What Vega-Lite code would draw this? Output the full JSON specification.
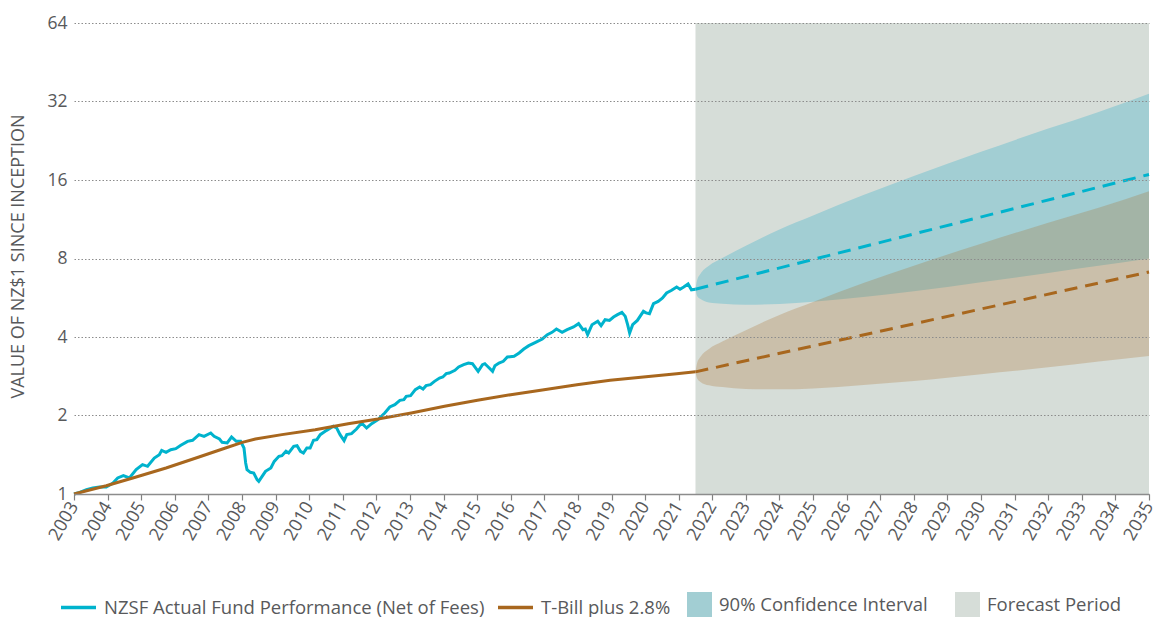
{
  "$schema": "https://vega.github.io/schema/vega-lite/v6.json",
  "width": 1075,
  "height": 471,
  "autosize": "none",
  "padding": {"left": 74, "top": 23, "right": 8, "bottom": 123},
  "background": "white",
  "config": {
    "view": {"stroke": null},
    "font": "Open Sans",
    "axisX": {"labelOverlap": false, "labelFlush": false, "labelBound": false, "ticks": true, "tickSize": 6, "tickColor": "#808080", "tickWidth": 1.2, "domainColor": "#8C8C8C", "domainWidth": 1.5, "grid": false},
    "axisY": {"labelOverlap": false, "grid": true, "gridDash": [1.5, 2], "gridColor": "#8C8C8C", "gridWidth": 1, "domain": false, "ticks": false}
  },
  "datasets": {
    "forecastPeriod": [{"year": 2021.5, "end": 2035, "bottom": 1, "top": 64, "label": "Forecast Period"}],
    "fundBand": [
      {"year": 2021.5, "lo": 6.1, "hi": 6.1, "label": "90% Confidence Interval"},
      {"year": 2021.55, "lo": 5.75, "hi": 6.61, "label": "90% Confidence Interval"},
      {"year": 2021.65, "lo": 5.6, "hi": 6.99, "label": "90% Confidence Interval"},
      {"year": 2021.9, "lo": 5.43, "hi": 7.5, "label": "90% Confidence Interval"},
      {"year": 2022.3, "lo": 5.37, "hi": 8.03, "label": "90% Confidence Interval"},
      {"year": 2023.0, "lo": 5.32, "hi": 8.95, "label": "90% Confidence Interval"},
      {"year": 2024.0, "lo": 5.35, "hi": 10.34, "label": "90% Confidence Interval"},
      {"year": 2025.0, "lo": 5.46, "hi": 11.7, "label": "90% Confidence Interval"},
      {"year": 2026.5, "lo": 5.7, "hi": 14.02, "label": "90% Confidence Interval"},
      {"year": 2028.0, "lo": 5.99, "hi": 16.59, "label": "90% Confidence Interval"},
      {"year": 2030.0, "lo": 6.49, "hi": 20.52, "label": "90% Confidence Interval"},
      {"year": 2032.0, "lo": 7.04, "hi": 25.19, "label": "90% Confidence Interval"},
      {"year": 2033.5, "lo": 7.5, "hi": 29.18, "label": "90% Confidence Interval"},
      {"year": 2035.0, "lo": 8.0, "hi": 34.3, "label": "90% Confidence Interval"}
    ],
    "tbillBand": [
      {"year": 2021.5, "lo": 2.94, "hi": 2.94},
      {"year": 2021.55, "lo": 2.77, "hi": 3.18},
      {"year": 2021.65, "lo": 2.69, "hi": 3.36},
      {"year": 2021.9, "lo": 2.61, "hi": 3.6},
      {"year": 2022.3, "lo": 2.57, "hi": 3.84},
      {"year": 2023.0, "lo": 2.53, "hi": 4.25},
      {"year": 2024.0, "lo": 2.52, "hi": 4.86},
      {"year": 2025.0, "lo": 2.54, "hi": 5.45},
      {"year": 2026.5, "lo": 2.62, "hi": 6.44},
      {"year": 2028.0, "lo": 2.71, "hi": 7.51},
      {"year": 2030.0, "lo": 2.88, "hi": 9.11},
      {"year": 2032.0, "lo": 3.06, "hi": 10.97},
      {"year": 2033.5, "lo": 3.22, "hi": 12.52},
      {"year": 2035.0, "lo": 3.38, "hi": 14.5}
    ],
    "forecast": [
      {"year": 2021.5, "value": 6.1, "series": "fund"},
      {"year": 2035, "value": 16.8, "series": "fund"},
      {"year": 2021.5, "value": 2.94, "series": "tbill"},
      {"year": 2035, "value": 7.1, "series": "tbill"}
    ],
    "actual": [
      {"year": 2003.0, "value": 1.0, "series": "fund"},
      {"year": 2003.17, "value": 1.015, "series": "fund"},
      {"year": 2003.37, "value": 1.039, "series": "fund"},
      {"year": 2003.56, "value": 1.054, "series": "fund"},
      {"year": 2003.76, "value": 1.064, "series": "fund"},
      {"year": 2003.96, "value": 1.064, "series": "fund"},
      {"year": 2004.16, "value": 1.102, "series": "fund"},
      {"year": 2004.3, "value": 1.152, "series": "fund"},
      {"year": 2004.47, "value": 1.176, "series": "fund"},
      {"year": 2004.65, "value": 1.152, "series": "fund"},
      {"year": 2004.85, "value": 1.24, "series": "fund"},
      {"year": 2005.04, "value": 1.296, "series": "fund"},
      {"year": 2005.19, "value": 1.277, "series": "fund"},
      {"year": 2005.39, "value": 1.374, "series": "fund"},
      {"year": 2005.54, "value": 1.415, "series": "fund"},
      {"year": 2005.61, "value": 1.47, "series": "fund"},
      {"year": 2005.74, "value": 1.445, "series": "fund"},
      {"year": 2005.88, "value": 1.479, "series": "fund"},
      {"year": 2006.03, "value": 1.492, "series": "fund"},
      {"year": 2006.18, "value": 1.537, "series": "fund"},
      {"year": 2006.38, "value": 1.592, "series": "fund"},
      {"year": 2006.53, "value": 1.607, "series": "fund"},
      {"year": 2006.72, "value": 1.689, "series": "fund"},
      {"year": 2006.87, "value": 1.664, "series": "fund"},
      {"year": 2007.07, "value": 1.714, "series": "fund"},
      {"year": 2007.17, "value": 1.664, "series": "fund"},
      {"year": 2007.33, "value": 1.625, "series": "fund"},
      {"year": 2007.41, "value": 1.578, "series": "fund"},
      {"year": 2007.56, "value": 1.569, "series": "fund"},
      {"year": 2007.69, "value": 1.654, "series": "fund"},
      {"year": 2007.83, "value": 1.592, "series": "fund"},
      {"year": 2007.96, "value": 1.592, "series": "fund"},
      {"year": 2008.06, "value": 1.501, "series": "fund"},
      {"year": 2008.11, "value": 1.315, "series": "fund"},
      {"year": 2008.15, "value": 1.24, "series": "fund"},
      {"year": 2008.25, "value": 1.211, "series": "fund"},
      {"year": 2008.35, "value": 1.204, "series": "fund"},
      {"year": 2008.45, "value": 1.135, "series": "fund"},
      {"year": 2008.5, "value": 1.118, "series": "fund"},
      {"year": 2008.6, "value": 1.169, "series": "fund"},
      {"year": 2008.7, "value": 1.222, "series": "fund"},
      {"year": 2008.86, "value": 1.258, "series": "fund"},
      {"year": 2008.96, "value": 1.334, "series": "fund"},
      {"year": 2009.1, "value": 1.395, "series": "fund"},
      {"year": 2009.19, "value": 1.403, "series": "fund"},
      {"year": 2009.31, "value": 1.458, "series": "fund"},
      {"year": 2009.39, "value": 1.436, "series": "fund"},
      {"year": 2009.54, "value": 1.523, "series": "fund"},
      {"year": 2009.64, "value": 1.532, "series": "fund"},
      {"year": 2009.74, "value": 1.458, "series": "fund"},
      {"year": 2009.83, "value": 1.436, "series": "fund"},
      {"year": 2009.93, "value": 1.501, "series": "fund"},
      {"year": 2010.03, "value": 1.501, "series": "fund"},
      {"year": 2010.13, "value": 1.607, "series": "fund"},
      {"year": 2010.23, "value": 1.616, "series": "fund"},
      {"year": 2010.33, "value": 1.689, "series": "fund"},
      {"year": 2010.52, "value": 1.754, "series": "fund"},
      {"year": 2010.72, "value": 1.818, "series": "fund"},
      {"year": 2010.82, "value": 1.791, "series": "fund"},
      {"year": 2010.92, "value": 1.689, "series": "fund"},
      {"year": 2011.04, "value": 1.601, "series": "fund"},
      {"year": 2011.12, "value": 1.689, "series": "fund"},
      {"year": 2011.26, "value": 1.704, "series": "fund"},
      {"year": 2011.41, "value": 1.775, "series": "fund"},
      {"year": 2011.56, "value": 1.872, "series": "fund"},
      {"year": 2011.71, "value": 1.791, "series": "fund"},
      {"year": 2011.86, "value": 1.861, "series": "fund"},
      {"year": 2012.05, "value": 1.928, "series": "fund"},
      {"year": 2012.25, "value": 2.045, "series": "fund"},
      {"year": 2012.4, "value": 2.156, "series": "fund"},
      {"year": 2012.55, "value": 2.201, "series": "fund"},
      {"year": 2012.7, "value": 2.287, "series": "fund"},
      {"year": 2012.82, "value": 2.3, "series": "fund"},
      {"year": 2012.89, "value": 2.369, "series": "fund"},
      {"year": 2013.02, "value": 2.383, "series": "fund"},
      {"year": 2013.16, "value": 2.512, "series": "fund"},
      {"year": 2013.29, "value": 2.572, "series": "fund"},
      {"year": 2013.39, "value": 2.527, "series": "fund"},
      {"year": 2013.48, "value": 2.603, "series": "fund"},
      {"year": 2013.61, "value": 2.626, "series": "fund"},
      {"year": 2013.73, "value": 2.704, "series": "fund"},
      {"year": 2013.88, "value": 2.785, "series": "fund"},
      {"year": 2013.98, "value": 2.81, "series": "fund"},
      {"year": 2014.08, "value": 2.894, "series": "fund"},
      {"year": 2014.17, "value": 2.911, "series": "fund"},
      {"year": 2014.34, "value": 2.98, "series": "fund"},
      {"year": 2014.45, "value": 3.069, "series": "fund"},
      {"year": 2014.6, "value": 3.133, "series": "fund"},
      {"year": 2014.74, "value": 3.18, "series": "fund"},
      {"year": 2014.86, "value": 3.161, "series": "fund"},
      {"year": 2015.03, "value": 2.954, "series": "fund"},
      {"year": 2015.16, "value": 3.133, "series": "fund"},
      {"year": 2015.23, "value": 3.161, "series": "fund"},
      {"year": 2015.33, "value": 3.069, "series": "fund"},
      {"year": 2015.46, "value": 2.954, "series": "fund"},
      {"year": 2015.53, "value": 3.105, "series": "fund"},
      {"year": 2015.65, "value": 3.18, "series": "fund"},
      {"year": 2015.78, "value": 3.227, "series": "fund"},
      {"year": 2015.9, "value": 3.353, "series": "fund"},
      {"year": 2016.1, "value": 3.373, "series": "fund"},
      {"year": 2016.25, "value": 3.473, "series": "fund"},
      {"year": 2016.39, "value": 3.598, "series": "fund"},
      {"year": 2016.54, "value": 3.705, "series": "fund"},
      {"year": 2016.74, "value": 3.816, "series": "fund"},
      {"year": 2016.94, "value": 3.93, "series": "fund"},
      {"year": 2017.09, "value": 4.083, "series": "fund"},
      {"year": 2017.23, "value": 4.168, "series": "fund"},
      {"year": 2017.36, "value": 4.293, "series": "fund"},
      {"year": 2017.53, "value": 4.168, "series": "fund"},
      {"year": 2017.68, "value": 4.267, "series": "fund"},
      {"year": 2017.87, "value": 4.37, "series": "fund"},
      {"year": 2018.02, "value": 4.5, "series": "fund"},
      {"year": 2018.15, "value": 4.267, "series": "fund"},
      {"year": 2018.22, "value": 4.293, "series": "fund"},
      {"year": 2018.29, "value": 4.083, "series": "fund"},
      {"year": 2018.42, "value": 4.46, "series": "fund"},
      {"year": 2018.59, "value": 4.594, "series": "fund"},
      {"year": 2018.69, "value": 4.42, "series": "fund"},
      {"year": 2018.81, "value": 4.66, "series": "fund"},
      {"year": 2018.94, "value": 4.63, "series": "fund"},
      {"year": 2019.06, "value": 4.77, "series": "fund"},
      {"year": 2019.18, "value": 4.872, "series": "fund"},
      {"year": 2019.31, "value": 4.973, "series": "fund"},
      {"year": 2019.41, "value": 4.8, "series": "fund"},
      {"year": 2019.48, "value": 4.46, "series": "fund"},
      {"year": 2019.54, "value": 4.14, "series": "fund"},
      {"year": 2019.63, "value": 4.46, "series": "fund"},
      {"year": 2019.77, "value": 4.63, "series": "fund"},
      {"year": 2019.95, "value": 5.017, "series": "fund"},
      {"year": 2020.03, "value": 4.95, "series": "fund"},
      {"year": 2020.13, "value": 4.915, "series": "fund"},
      {"year": 2020.25, "value": 5.37, "series": "fund"},
      {"year": 2020.39, "value": 5.48, "series": "fund"},
      {"year": 2020.52, "value": 5.645, "series": "fund"},
      {"year": 2020.64, "value": 5.9, "series": "fund"},
      {"year": 2020.79, "value": 6.04, "series": "fund"},
      {"year": 2020.94, "value": 6.22, "series": "fund"},
      {"year": 2021.04, "value": 6.1, "series": "fund"},
      {"year": 2021.15, "value": 6.22, "series": "fund"},
      {"year": 2021.28, "value": 6.39, "series": "fund"},
      {"year": 2021.38, "value": 6.07, "series": "fund"},
      {"year": 2021.5, "value": 6.1, "series": "fund"},
      {"year": 2003.0, "value": 1.0, "series": "tbill"},
      {"year": 2003.96, "value": 1.076, "series": "tbill"},
      {"year": 2004.75, "value": 1.152, "series": "tbill"},
      {"year": 2005.74, "value": 1.258, "series": "tbill"},
      {"year": 2006.72, "value": 1.386, "series": "tbill"},
      {"year": 2007.51, "value": 1.501, "series": "tbill"},
      {"year": 2008.01, "value": 1.578, "series": "tbill"},
      {"year": 2008.4, "value": 1.625, "series": "tbill"},
      {"year": 2009.19, "value": 1.689, "series": "tbill"},
      {"year": 2010.18, "value": 1.765, "series": "tbill"},
      {"year": 2011.16, "value": 1.861, "series": "tbill"},
      {"year": 2012.05, "value": 1.939, "series": "tbill"},
      {"year": 2013.04, "value": 2.045, "series": "tbill"},
      {"year": 2014.03, "value": 2.169, "series": "tbill"},
      {"year": 2015.01, "value": 2.287, "series": "tbill"},
      {"year": 2016.0, "value": 2.404, "series": "tbill"},
      {"year": 2016.99, "value": 2.512, "series": "tbill"},
      {"year": 2017.97, "value": 2.626, "series": "tbill"},
      {"year": 2018.96, "value": 2.728, "series": "tbill"},
      {"year": 2019.95, "value": 2.81, "series": "tbill"},
      {"year": 2020.94, "value": 2.894, "series": "tbill"},
      {"year": 2021.5, "value": 2.94, "series": "tbill"}
    ]
  },
  "encoding": {
    "x": {
      "field": "year", "type": "quantitative", "title": null,
      "scale": {"domain": [2003, 2035], "nice": false, "zero": false},
      "axis": {
        "values": [2003, 2003.5, 2004, 2004.5, 2005, 2005.5, 2006, 2006.5, 2007, 2007.5, 2008, 2008.5, 2009, 2009.5, 2010, 2010.5, 2011, 2011.5, 2012, 2012.5, 2013, 2013.5, 2014, 2014.5, 2015, 2015.5, 2016, 2016.5, 2017, 2017.5, 2018, 2018.5, 2019, 2019.5, 2020, 2020.5, 2021, 2021.5, 2022, 2022.5, 2023, 2023.5, 2024, 2024.5, 2025, 2025.5, 2026, 2026.5, 2027, 2027.5, 2028, 2028.5, 2029, 2029.5, 2030, 2030.5, 2031, 2031.5, 2032, 2032.5, 2033, 2033.5, 2034, 2034.5, 2035],
        "format": "d",
        "labelExpr": "datum.value % 1 === 0 ? datum.label : ''",
        "labelAngle": -60,
        "labelFontSize": 18,
        "labelColor": "#58595B",
        "labelFont": "Open Sans",
        "labelPadding": 3,
        "labelOverlap": false,
        "labelFlush": false,
        "labelBound": false,
        "ticks": true,
        "tickSize": 6,
        "tickColor": "#808080",
        "tickWidth": 1.2,
        "domainColor": "#8C8C8C",
        "domainWidth": 1.5,
        "grid": false,
        "zindex": 1
      }
    }
  },
  "layer": [
    {
      "data": {"name": "forecastPeriod"},
      "mark": {"type": "rect"},
      "encoding": {
        "x2": {"field": "end"},
        "y": {
          "field": "bottom", "type": "quantitative", "title": "VALUE OF NZ$1 SINCE INCEPTION",
          "scale": {"type": "log", "base": 2, "domain": [1, 64], "nice": false},
          "axis": {
            "values": [1, 2, 4, 8, 16, 32, 64],
            "format": "d",
            "grid": true,
            "gridDash": [1.5, 2],
            "gridColor": "#8C8C8C",
            "gridWidth": 1,
            "domain": false,
            "ticks": false,
            "labelFontSize": 17.5,
            "labelColor": "#58595B",
            "labelFont": "Open Sans",
            "labelPadding": 7,
            "titleFont": "Open Sans",
            "titleFontSize": 18,
            "titleFontWeight": "normal",
            "titleColor": "#58595B",
            "titleX": -56,
            "titleY": 233,
            "titleAngle": -90,
            "titleAlign": "center",
            "titleBaseline": "middle",
            "zindex": 1
          }
        },
        "y2": {"field": "top"},
        "fill": {
          "field": "label", "type": "nominal",
          "scale": {"domain": ["90% Confidence Interval", "Forecast Period"], "range": ["#A2CED3", "#D6DDD8"]},
          "legend": {
            "orient": "none", "legendX": 613, "legendY": 569, "direction": "horizontal",
            "title": null, "symbolType": "square", "symbolSize": 625, "symbolStrokeWidth": 0,
            "labelFontSize": 18.5, "labelColor": "#58595B", "labelFont": "Open Sans",
            "labelOffset": 7, "columnPadding": 27, "padding": 0, "labelLimit": 0
          }
        }
      }
    },
    {
      "data": {"name": "fundBand"},
      "mark": {"type": "area", "interpolate": "monotone"},
      "encoding": {
        "y": {"field": "lo", "type": "quantitative", "title": "VALUE OF NZ$1 SINCE INCEPTION"},
        "y2": {"field": "hi"},
        "fill": {"field": "label", "type": "nominal"}
      }
    },
    {
      "data": {"name": "tbillBand"},
      "mark": {"type": "area", "interpolate": "monotone", "color": "#A8671E", "fillOpacity": 0.25},
      "encoding": {
        "y": {"field": "lo", "type": "quantitative", "title": "VALUE OF NZ$1 SINCE INCEPTION"},
        "y2": {"field": "hi"}
      }
    },
    {
      "data": {"name": "actual"},
      "mark": {"type": "line", "strokeWidth": 3},
      "encoding": {
        "y": {"field": "value", "type": "quantitative", "title": "VALUE OF NZ$1 SINCE INCEPTION"},
        "stroke": {
          "field": "series", "type": "nominal",
          "scale": {"domain": ["fund", "tbill"], "range": ["#00B3CD", "#A8671E"]},
          "legend": {
            "orient": "none", "legendX": -15, "legendY": 565, "direction": "horizontal",
            "title": null, "symbolType": "stroke", "symbolSize": 1225, "symbolStrokeWidth": 3.5,
            "symbolDash": [],
            "labelExpr": "datum.value === 'fund' ? 'NZSF Actual Fund Performance (Net of Fees)' : 'T-Bill plus 2.8%'",
            "labelFontSize": 18.5, "labelColor": "#58595B", "labelFont": "Open Sans",
            "labelOffset": 6, "columnPadding": 6, "padding": 0, "labelLimit": 0
          }
        }
      }
    },
    {
      "data": {"name": "forecast"},
      "mark": {"type": "line", "strokeWidth": 3, "strokeDash": [13, 8]},
      "encoding": {
        "y": {"field": "value", "type": "quantitative", "title": "VALUE OF NZ$1 SINCE INCEPTION"},
        "stroke": {
          "field": "series", "type": "nominal",
          "scale": {"domain": ["fund", "tbill"], "range": ["#00B3CD", "#A8671E"]},
          "legend": null
        }
      }
    }
  ],
  "resolve": {"scale": {"stroke": "independent"}}
}
